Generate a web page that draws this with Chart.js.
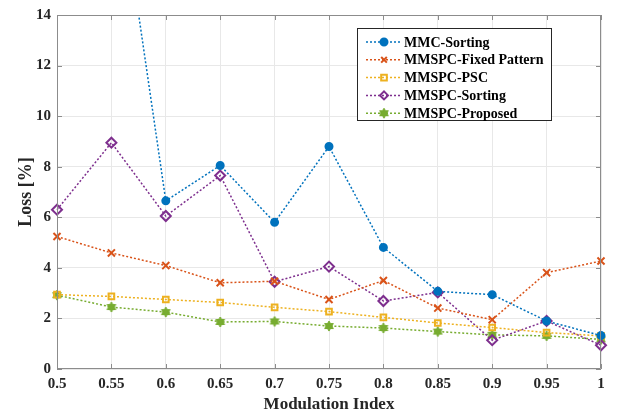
<!DOCTYPE html>
<html>
<head>
<meta charset="utf-8">
<script src="https://cdn.jsdelivr.net/npm/chart.js@4/dist/chart.umd.min.js"></script>
<style>
  html, body { margin: 0; padding: 0; background: #fff; }
  #chart { display: block; }
</style>
</head>
<body>
<canvas id="chart" width="618" height="419"></canvas>
<script>
// modulation index values (x ticks)
const modIndex = ['0.5', '0.55', '0.6', '0.65', '0.7', '0.75', '0.8', '0.85', '0.9', '0.95', '1'];
const yTicks = [0, 2, 4, 6, 8, 10, 12, 14];

// loss [%] per scheme (first two MMC points lie above the plot)
const mmcSorting     = [30, 21.4, 6.65, 8.05, 5.8, 8.8, 4.81, 3.07, 2.94, 1.9, 1.32];
const fixedPattern   = [5.24, 4.59, 4.09, 3.41, 3.47, 2.75, 3.5, 2.41, 1.95, 3.81, 4.27];
const mmspcPSC       = [2.94, 2.87, 2.75, 2.63, 2.44, 2.27, 2.04, 1.82, 1.64, 1.44, 1.31];
const mmspcSorting   = [6.3, 8.95, 6.05, 7.65, 3.45, 4.05, 2.69, 3.03, 1.14, 1.9, 0.94];
const mmspcProposed  = [2.92, 2.45, 2.25, 1.86, 1.88, 1.7, 1.62, 1.48, 1.35, 1.31, 1.17];

const FONT = '"Liberation Serif", "Times New Roman", serif';
const AXIS = '#8c8c8c';

// filled six-point star marker
function hexagram(color, r) {
  const c = document.createElement('canvas');
  const s = Math.ceil(r * 2 + 4);
  c.width = s; c.height = s;
  const g = c.getContext('2d');
  g.fillStyle = color;
  g.strokeStyle = color;
  g.lineWidth = 1;
  const cx = s / 2, cy = s / 2;
  [0, Math.PI].forEach(off => {
    g.beginPath();
    for (let k = 0; k < 3; k++) {
      const a = off - Math.PI / 2 + k * 2 * Math.PI / 3;
      const px = cx + r * Math.cos(a), py = cy + r * Math.sin(a);
      k ? g.lineTo(px, py) : g.moveTo(px, py);
    }
    g.closePath();
    g.fill();
    g.stroke();
  });
  return c;
}

function series(label, data, color, style, fill, radius) {
  return {
    label: label,
    data: data,
    borderColor: color,
    backgroundColor: color,
    borderWidth: 1.5,
    borderDash: [2, 2],
    pointStyle: style,
    pointRadius: radius,
    pointBorderWidth: 2,
    pointBorderColor: color,
    pointBackgroundColor: fill ? color : 'rgba(0,0,0,0)',
    clip: { left: 10, right: 10, top: 0, bottom: 10 },
    tension: 0
  };
}

// box, inward ticks and in-plot legend, like matlab
const framePlugin = {
  id: 'frame',
  afterDatasetsDraw(chart) {
    const ctx = chart.ctx;
    const a = chart.chartArea;
    const xs = chart.scales.x, ys = chart.scales.y;
    ctx.save();
    ctx.strokeStyle = AXIS;
    ctx.lineWidth = 1;
    ctx.beginPath();
    ctx.rect(a.left + 0.5, a.top + 0.5, a.right - a.left - 1, a.bottom - a.top - 1);
    ctx.stroke();
    ctx.beginPath();
    modIndex.forEach((l, i) => {
      const px = Math.round(xs.getPixelForValue(i)) + 0.5;
      ctx.moveTo(px, a.bottom); ctx.lineTo(px, a.bottom - 5);
      ctx.moveTo(px, a.top); ctx.lineTo(px, a.top + 5);
    });
    yTicks.forEach(v => {
      const py = Math.round(ys.getPixelForValue(v)) + 0.5;
      ctx.moveTo(a.left, py); ctx.lineTo(a.left + 5, py);
      ctx.moveTo(a.right, py); ctx.lineTo(a.right - 5, py);
    });
    ctx.stroke();

    // legend
    const lx = 357, ly = 28, lw = 194, lh = 92;
    ctx.fillStyle = '#fff';
    ctx.fillRect(lx, ly, lw, lh);
    ctx.strokeStyle = '#262626';
    ctx.strokeRect(lx + 0.5, ly + 0.5, lw, lh);
    ctx.font = 'bold 14px ' + FONT;
    ctx.textBaseline = 'middle';
    chart.data.datasets.forEach((ds, i) => {
      const y = ly + 14 + i * 17.8;
      ctx.strokeStyle = ds.borderColor;
      ctx.lineWidth = 1.5;
      ctx.setLineDash([2, 2]);
      ctx.beginPath();
      ctx.moveTo(lx + 9, y); ctx.lineTo(lx + 45, y);
      ctx.stroke();
      ctx.setLineDash([]);
      ctx.save();
      ctx.strokeStyle = ds.pointBorderColor;
      ctx.fillStyle = ds.pointBackgroundColor;
      ctx.lineWidth = 2;
      Chart.helpers.drawPoint(ctx, {
        pointStyle: ds.pointStyle, radius: Math.min(ds.pointRadius, 4), borderWidth: 2, rotation: 0
      }, lx + 27, y);
      ctx.restore();
      ctx.fillStyle = '#000';
      ctx.fillText(ds.label, lx + 47, y + 1);
    });
    ctx.restore();
  }
};

new Chart(document.getElementById('chart'), {
  type: 'line',
  data: {
    labels: modIndex,
    datasets: [
      series('MMC-Sorting', mmcSorting, '#0072BD', 'circle', true, 3.5),
      series('MMSPC-Fixed Pattern', fixedPattern, '#D95319', 'crossRot', false, 5),
      series('MMSPC-PSC', mmspcPSC, '#EDB120', 'rect', false, 4),
      series('MMSPC-Sorting', mmspcSorting, '#7E2F8E', 'rectRot', false, 5),
      series('MMSPC-Proposed', mmspcProposed, '#77AC30', hexagram('#77AC30', 5), false, 5)
    ]
  },
  options: {
    responsive: false,
    animation: false,
    layout: { padding: { top: 13, right: 17, left: 0, bottom: 0 } },
    plugins: { legend: { display: false }, tooltip: { enabled: false } },
    scales: {
      x: {
        type: 'category',
        offset: false,
        grid: { color: '#e8e8e8', drawTicks: false },
        border: { display: false },
        ticks: { color: '#262626', font: { family: FONT, size: 15, weight: 'bold' }, padding: 6, maxRotation: 0, autoSkip: false },
        title: { display: true, text: 'Modulation Index', color: '#262626', font: { family: FONT, size: 17, weight: 'bold' }, padding: { top: 0, bottom: 4 } },
        afterFit: s => { s.height = 50; }
      },
      y: {
        min: 0,
        max: 14,
        afterBuildTicks: s => { s.ticks = yTicks.map(v => ({ value: v })); },
        grid: { color: '#e8e8e8', drawTicks: false },
        border: { display: false },
        ticks: { color: '#262626', font: { family: FONT, size: 15, weight: 'bold' }, padding: 6 },
        title: { display: true, text: 'Loss [%]', color: '#262626', font: { family: FONT, size: 18, weight: 'bold' }, padding: { top: 16, bottom: 0 } },
        afterFit: s => { s.width = 57; }
      }
    }
  },
  plugins: [framePlugin]
});
</script>
</body>
</html>
